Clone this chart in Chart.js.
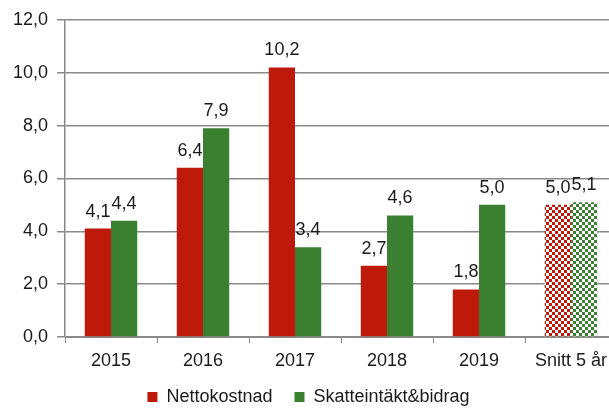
<!DOCTYPE html>
<html>
<head>
<meta charset="utf-8">
<script src="https://cdn.jsdelivr.net/npm/chart.js@4"></script>
<style>
html,body{margin:0;padding:0;background:#fff;overflow:hidden;width:609px;height:408px;}
canvas{display:block;}
</style>
</head>
<body>
<canvas id="c" width="644" height="408"></canvas>
<script>
const categories = ['2015','2016','2017','2018','2019','Snitt 5 år'];
const nettokostnad = [4.1, 6.4, 10.2, 2.7, 1.8, 5.0];
const skatteintakt = [4.4, 7.9, 3.4, 4.6, 5.0, 5.1];
const seriesNames = ['Nettokostnad', 'Skatteintäkt&bidrag'];
const yTicks = [0, 2, 4, 6, 8, 10, 12];

const RED = '#BE1A0C';
const GREEN = '#3A8030';
const FONT = '"Liberation Sans", Arial, sans-serif';

function checker(color) {
  const c = document.createElement('canvas');
  c.width = 6; c.height = 6;
  const g = c.getContext('2d');
  g.fillStyle = '#fff'; g.fillRect(0,0,6,6);
  g.fillStyle = color;
  g.fillRect(0,0,3,3); g.fillRect(3,3,3,3);
  return g.createPattern(c, 'repeat');
}
const redPat = checker(RED);
const greenPat = checker(GREEN);
const avgIndex = categories.length - 1;

const fmt = v => v.toFixed(1).replace('.', ',');

const labelPlugin = {
  id: 'valueLabels',
  afterDatasetsDraw(chart) {
    const ctx = chart.ctx;
    ctx.save();
    ctx.font = '18px ' + FONT;
    ctx.fillStyle = '#1a1a1a';
    ctx.textAlign = 'center';
    ctx.textBaseline = 'alphabetic';
    chart.data.datasets.forEach((ds, di) => {
      chart.getDatasetMeta(di).data.forEach((bar, i) => {
        ctx.fillText(fmt(ds.data[i]), bar.x, bar.y - 12);
      });
    });
    ctx.restore();
  }
};

new Chart(document.getElementById('c'), {
  type: 'bar',
  data: {
    labels: categories,
    datasets: [
      { label: seriesNames[0], data: nettokostnad,
        backgroundColor: c => c.dataIndex === avgIndex ? redPat : RED },
      { label: seriesNames[1], data: skatteintakt,
        backgroundColor: c => c.dataIndex === avgIndex ? greenPat : GREEN }
    ]
  },
  options: {
    responsive: false,
    animation: false,
    categoryPercentage: 0.57,
    barPercentage: 1,
    layout: { padding: { top: 19, right: 27, left: 0, bottom: -8 } },
    plugins: {
      tooltip: { enabled: false },
      legend: {
        position: 'bottom',
        labels: {
          boxWidth: 10, boxHeight: 10, padding: 17,
          color: '#1a1a1a',
          font: { size: 18, family: FONT },
          generateLabels: chart => {
            const items = Chart.defaults.plugins.legend.labels.generateLabels(chart);
            items.forEach((it, i) => { if (i < items.length - 1) it.text = it.text + '\u00A0'; });
            return items;
          }
        }
      }
    },
    scales: {
      x: {
        grid: { drawOnChartArea: false, drawTicks: true, tickLength: 6, color: '#888' },
        border: { color: '#888' },
        ticks: { color: '#1a1a1a', padding: 7, maxRotation: 0, autoSkip: false,
          font: { size: 18, family: FONT } },
        afterFit: s => { s.height = 34; }
      },
      y: {
        min: 0, max: 12,
        afterBuildTicks: s => { s.ticks = yTicks.map(v => ({ value: v })); },
        grid: { color: '#8a8a8a', tickLength: 8, lineWidth: 1.5 },
        border: { color: '#888', width: 1.5 },
        ticks: { color: '#1a1a1a', padding: 9, callback: v => fmt(v),
          font: { size: 18, family: FONT } },
        afterFit: s => { s.width = 65; }
      }
    }
  },
  plugins: [labelPlugin]
});
</script>
</body>
</html>
